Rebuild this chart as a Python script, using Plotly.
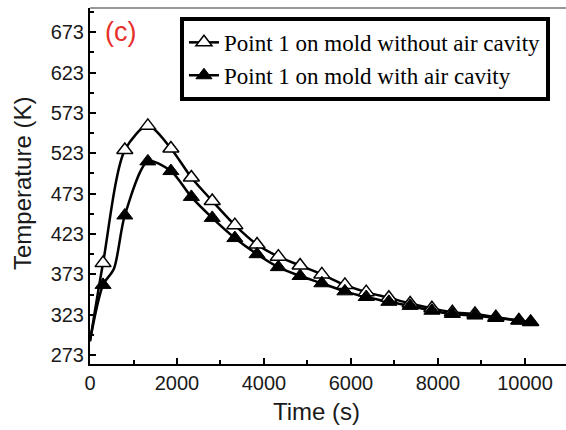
import plotly.graph_objects as go

# Time (s) of the plotted markers
time_s = [300, 800, 1330, 1860, 2330, 2810, 3330, 3840, 4330, 4830, 5330,
          5860, 6350, 6870, 7360, 7860, 8330, 8850, 9330, 9860, 10130]

# Point 1 on mold without air cavity (K)
temp_without = [387, 527, 557, 529, 493, 464, 434, 410, 395, 384, 373,
                360, 351, 344, 337, 331, 326, 324, 320, 316, 314]

# Point 1 on mold with air cavity (K)
temp_with = [360, 446, 513, 501, 469, 443, 418, 398, 382, 371, 362,
             352, 345, 339, 334, 328, 324, 322, 319, 316, 314]

# extra points (start of heating, shoulder)
start_time = [0]
start_without = [290]
start_with = [291]
shoulder_time = [550]
shoulder_with = [380]

y_ticks = [273, 323, 373, 423, 473, 523, 573, 623, 673]
x_ticks = [0, 2000, 4000, 6000, 8000, 10000]

name_without = "Point 1 on mold without air cavity"
name_with = "Point 1 on mold with air cavity"

fig = go.Figure()

# curves
line_t_without = start_time + time_s
line_v_without = start_without + temp_without
line_t_with = start_time + time_s[:1] + shoulder_time + time_s[1:]
line_v_with = start_with + temp_with[:1] + shoulder_with + temp_with[1:]

fig.add_trace(go.Scatter(x=line_t_without, y=line_v_without, mode="lines",
                         line=dict(color="black", width=2.5, shape="spline", smoothing=0.8),
                         showlegend=False, hoverinfo="skip"))
fig.add_trace(go.Scatter(x=line_t_with, y=line_v_with, mode="lines",
                         line=dict(color="black", width=2.5, shape="spline", smoothing=0.8),
                         showlegend=False, hoverinfo="skip"))

# markers
fig.add_trace(go.Scatter(x=time_s, y=temp_without, mode="markers",
                         marker=dict(symbol="triangle-up", size=14, color="white",
                                     line=dict(color="black", width=1.5)),
                         showlegend=False))
fig.add_trace(go.Scatter(x=time_s, y=temp_with, mode="markers",
                         marker=dict(symbol="triangle-up", size=14, color="black",
                                     line=dict(color="black", width=1)),
                         showlegend=False))

# legend entries
fig.add_trace(go.Scatter(x=[None], y=[None], mode="lines+markers", name=name_without,
                         line=dict(color="black", width=2.5),
                         marker=dict(symbol="triangle-up", size=14, color="white",
                                     line=dict(color="black", width=1.5))))
fig.add_trace(go.Scatter(x=[None], y=[None], mode="lines+markers", name=name_with,
                         line=dict(color="black", width=2.5),
                         marker=dict(symbol="triangle-up", size=14, color="black",
                                     line=dict(color="black", width=1))))

tick_font = dict(family="Liberation Sans, Arial, sans-serif", size=20, color="#1a1a1a")

fig.update_layout(
    width=566, height=430,
    margin=dict(l=90, r=0, t=8, b=66),
    paper_bgcolor="white", plot_bgcolor="white",
    showlegend=True,
    legend=dict(x=0.189, y=0.975, xanchor="left", yanchor="top",
                bgcolor="white", bordercolor="black", borderwidth=4,
                font=dict(family="Liberation Serif, Times New Roman, serif", size=23, color="black"),
                tracegroupgap=0),
    xaxis=dict(range=[0, 10943], tickvals=x_ticks, ticktext=[str(v) for v in x_ticks],
               ticks="inside", ticklen=6, tickwidth=1.5, tickcolor="black",
               showline=True, linecolor="black", linewidth=2,
               showgrid=False, zeroline=False, tickfont=tick_font,
               minor=dict(ticks="inside", ticklen=4, tickwidth=1.5, tickcolor="black",
                          tick0=0, dtick=1000, showgrid=False)),
    yaxis=dict(range=[262, 703], tickvals=y_ticks, ticktext=[str(v) for v in y_ticks],
               ticks="inside", ticklen=6, tickwidth=1.5, tickcolor="black",
               showline=True, linecolor="black", linewidth=2,
               showgrid=False, zeroline=False, tickfont=tick_font,
               minor=dict(ticks="inside", ticklen=4, tickwidth=1.5, tickcolor="black",
                          tick0=273, dtick=25, showgrid=False)),
    shapes=[dict(type="line", xref="paper", yref="paper", x0=0, x1=1, y0=1, y1=1,
                 line=dict(color="#333333", width=1.2))],
    annotations=[
        dict(text="(c)", xref="paper", yref="paper", x=(103 - 90) / 476, y=1 - (32 - 8) / 356,
             xanchor="left", yanchor="middle", showarrow=False,
             font=dict(family="Liberation Sans, Arial, sans-serif", size=27, color="#e8302a")),
        dict(text="Time (s)", xref="paper", yref="paper", x=(316 - 90) / 476, y=-(412 - 364) / 356,
             xanchor="center", yanchor="middle", showarrow=False,
             font=dict(family="Liberation Sans, Arial, sans-serif", size=24, color="#1a1a1a")),
        dict(text="Temperature (K)", xref="paper", yref="paper", x=-(90 - 22) / 476,
             y=1 - (184 - 8) / 356, xanchor="center", yanchor="middle", textangle=-90,
             showarrow=False,
             font=dict(family="Liberation Sans, Arial, sans-serif", size=24, color="#1a1a1a")),
    ],
)

fig.write_html("out.html")
